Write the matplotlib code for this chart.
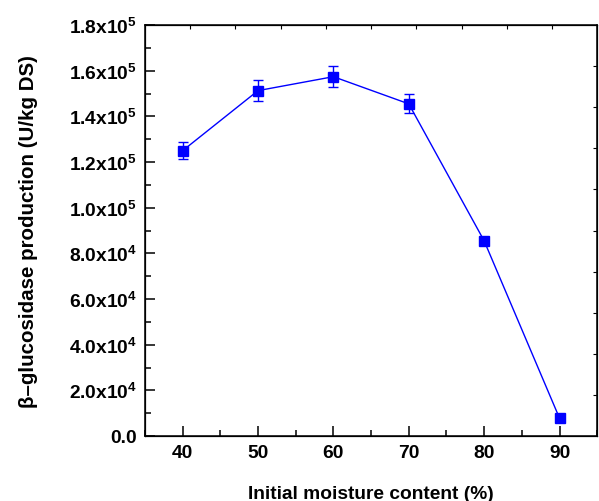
import numpy as np
import matplotlib
matplotlib.use('Agg')
import matplotlib.pyplot as plt
from matplotlib.ticker import FixedLocator, MultipleLocator, NullFormatter

# data
moisture = [40, 50, 60, 70, 80, 90]
activity = [125000, 151300, 157400, 145500, 85500, 7800]
activity_err = [3700, 4600, 4700, 4200, 1500, 500]

y_ticks = [0, 20000, 40000, 60000, 80000, 100000, 120000, 140000, 160000, 180000]
y_labels = ['0.0', r'$\mathbf{2.0x10^{4}}$', r'$\mathbf{4.0x10^{4}}$', r'$\mathbf{6.0x10^{4}}$',
            r'$\mathbf{8.0x10^{4}}$', r'$\mathbf{1.0x10^{5}}$', r'$\mathbf{1.2x10^{5}}$',
            r'$\mathbf{1.4x10^{5}}$', r'$\mathbf{1.6x10^{5}}$', r'$\mathbf{1.8x10^{5}}$']

plt.rcParams['font.family'] = ['Liberation Sans', 'DejaVu Sans']
plt.rcParams['font.weight'] = 'bold'
plt.rcParams['mathtext.fontset'] = 'custom'
plt.rcParams['mathtext.rm'] = 'Liberation Sans:bold'
plt.rcParams['mathtext.bf'] = 'Liberation Sans:bold'

fig = plt.figure(figsize=(5.99, 5.02), dpi=100)
ax = fig.add_axes([0.242, 0.1295, 0.755, 0.8185])

ax.errorbar(moisture, activity, yerr=activity_err, color='#0000ff', lw=1.0,
            marker='s', markersize=7, capsize=3.5, capthick=1.0, elinewidth=1.0)

ax.set_xlim(35, 95)
ax.set_ylim(0, 180000)
ax.set_xticks(moisture)
ax.xaxis.set_minor_locator(MultipleLocator(5))
ax.set_yticks(y_ticks)
ax.set_yticklabels(y_labels)
ax.yaxis.set_minor_locator(MultipleLocator(10000))

ax.tick_params(which='both', direction='in', labelsize=13.8, width=1.1,
               top=False, right=False, pad=6)
ax.tick_params(which='major', length=7)
ax.tick_params(which='minor', length=4)
for lab in ax.get_xticklabels() + ax.get_yticklabels():
    lab.set_fontweight('bold')
for s in ax.spines.values():
    s.set_linewidth(1.1)

# top and right axes carry their own short, unlabelled ticks
top = ax.twiny()
top.set_xlim(0, 1)
top.xaxis.set_major_locator(FixedLocator(np.arange(0.1, 1.0, 0.1)))
top.xaxis.set_major_formatter(NullFormatter())
top.tick_params(direction='in', length=3, width=0.8)
right = ax.twinx()
right.set_ylim(0, 1)
right.yaxis.set_major_locator(FixedLocator(np.arange(0.1, 1.0, 0.1)))
right.yaxis.set_major_formatter(NullFormatter())
right.tick_params(direction='in', length=3, width=0.8)

ax.set_xlabel('Initial moisture content (%)', fontsize=13.8, fontweight='bold', labelpad=17)
ax.set_ylabel('\u03b2\u2013glucosidase production (U/kg DS)', fontsize=14.8,
              fontweight='bold', labelpad=22)

fig.savefig('out.png', dpi=100)
